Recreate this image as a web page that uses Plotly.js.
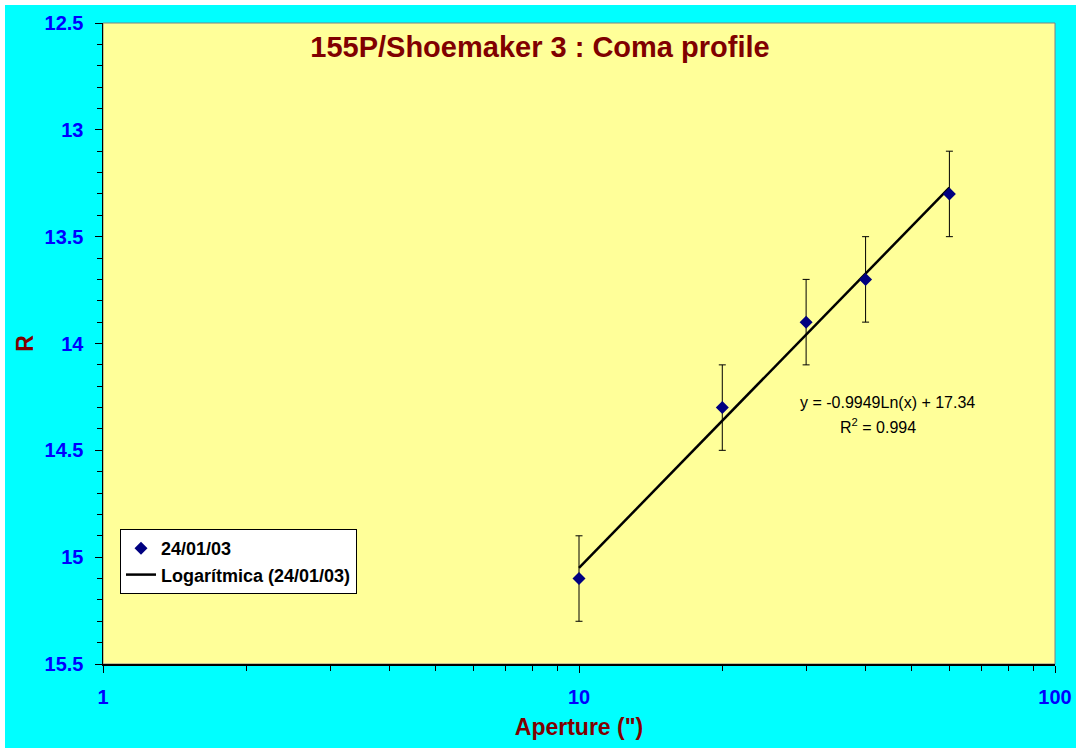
<!DOCTYPE html>
<html>
<head>
<meta charset="utf-8">
<script src="https://cdn.plot.ly/plotly-3.0.1.min.js"></script>
<style>
  html, body { margin: 0; padding: 0; background: #ffffff; }
  #chart { position: absolute; left: 5px; top: 5px; width: 1071px; height: 743px; }
</style>
</head>
<body>
<div id="chart"></div>
<script>
// Data
const aperture = [10, 20, 30, 40, 60];
const magR = [15.1, 14.3, 13.9, 13.7, 13.3];
const magErr = [0.2, 0.2, 0.2, 0.2, 0.2];

// Logarithmic trend line end points (y = -0.9949 Ln(x) + 17.34)
const trendX = [10, 60];
const trendY = [15.05, 13.27];

const seriesName = "24/01/03";
const trendName = "Logarítmica (24/01/03)";
const chartTitle = "155P/Shoemaker 3 : Coma profile";
const xTitle = 'Aperture (")';
const yTitle = "R";
const eqLine1 = "y = -0.9949Ln(x) + 17.34";
const eqLine2 = "R<sup>2</sup> = 0.994";

const xMajorTicks = [1, 10, 100];
const xMinorTicks = [2, 3, 4, 5, 6, 7, 8, 9, 20, 30, 40, 50, 60, 70, 80, 90];

const FONT = "Arial, 'Liberation Sans', sans-serif";

const traces = [
  {
    x: trendX, y: trendY, type: "scatter", mode: "lines",
    name: trendName, legendrank: 2,
    line: { color: "#000000", width: 2.5 },
    hoverinfo: "skip"
  },
  {
    x: aperture, y: magR, type: "scatter", mode: "markers",
    name: seriesName, legendrank: 1,
    marker: { symbol: "diamond", size: 10, color: "#000080" },
    error_y: { type: "data", array: magErr, visible: true, color: "#000000", thickness: 1, width: 3.5 }
  }
];

const layout = {
  width: 1071, height: 743,
  paper_bgcolor: "#00FFFF",
  plot_bgcolor: "#FFFF99",
  margin: { l: 98, r: 21, t: 18, b: 84 },
  font: { family: FONT },
  title: {
    text: "<b>" + chartTitle + "</b>",
    font: { family: FONT, size: 29, color: "#800000" },
    xref: "container", x: 0.4995, xanchor: "center",
    yref: "container", y: 1 - 42 / 743, yanchor: "middle"
  },
  xaxis: {
    type: "log", range: [0, 2],
    tickmode: "array", tickvals: xMajorTicks, ticktext: xMajorTicks.map(String),
    ticks: "outside", ticklen: 7, tickwidth: 1, tickcolor: "#000000",
    minor: { tickmode: "array", tickvals: xMinorTicks, ticks: "outside", ticklen: 5, tickwidth: 1, tickcolor: "#000000", showgrid: false },
    showgrid: false, zeroline: false,
    showline: true, linecolor: "#000000", linewidth: 1.5,
    tickfont: { family: FONT, size: 20, color: "#0000FF", weight: "bold" },
    ticklabelstandoff: 7,
    title: { text: "<b>" + xTitle + "</b>", font: { family: FONT, size: 23, color: "#800000" }, standoff: 12 }
  },
  yaxis: {
    range: [15.5, 12.5],
    tickmode: "linear", tick0: 12.5, dtick: 0.5,
    ticks: "outside", ticklen: 7, tickwidth: 1, tickcolor: "#000000",
    minor: { dtick: 0.1, ticks: "outside", ticklen: 5, tickwidth: 1, tickcolor: "#000000", showgrid: false },
    showgrid: false, zeroline: false,
    showline: true, linecolor: "#000000", linewidth: 1.5,
    tickfont: { family: FONT, size: 20, color: "#0000FF", weight: "bold" },
    ticklabelstandoff: 7,
    title: { text: "<b>" + yTitle + "</b>", font: { family: FONT, size: 23, color: "#800000" }, standoff: 4 }
  },
  shapes: [
    { type: "rect", xref: "paper", yref: "paper", x0: 0, x1: 1, y0: 0, y1: 1,
      line: { color: "#808080", width: 1 }, layer: "below" }
  ],
  annotations: [
    { xref: "paper", yref: "paper", x: (882 - 98) / 952, y: 1 - (397 - 18) / 641,
      text: eqLine1, showarrow: false, xanchor: "center", yanchor: "middle",
      font: { family: FONT, size: 16, color: "#000000" } },
    { xref: "paper", yref: "paper", x: (873 - 98) / 952, y: 1 - (421 - 18) / 641,
      text: eqLine2, showarrow: false, xanchor: "center", yanchor: "middle",
      font: { family: FONT, size: 16, color: "#000000" } }
  ],
  showlegend: true,
  legend: {
    x: (115 - 98) / 952, xanchor: "left",
    y: 1 - (524 - 18) / 641, yanchor: "top",
    bgcolor: "#FFFFFF", bordercolor: "#000000", borderwidth: 1,
    font: { family: FONT, size: 18, color: "#000000", weight: "bold" },
    tracegroupgap: 0
  }
};

Plotly.newPlot("chart", traces, layout, { displayModeBar: false, staticPlot: true });
</script>
</body>
</html>
